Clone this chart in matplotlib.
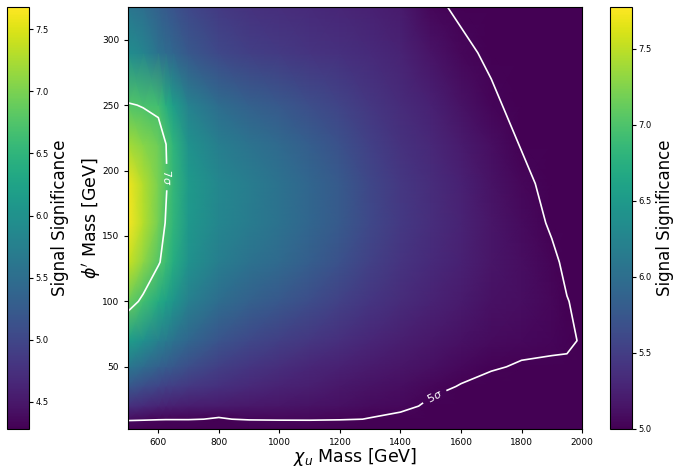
import numpy as np
import matplotlib.pyplot as plt
from matplotlib.colors import Normalize
from matplotlib.cm import ScalarMappable

# grid of the scan (GeV)
chi_mass = [500, 550, 600, 625, 650, 700, 800, 900, 1000, 1100, 1200, 1300, 1400,
            1500, 1600, 1700, 1800, 1900, 1950, 2000]
phi_mass = [2.5, 10, 20, 35, 50, 70, 100, 130, 160, 190, 220, 250, 290, 325]

# signal significance, one list per chi mass (values along phi_mass)
significance_cols = [
    [4.40, 5.10, 5.38, 5.75, 6.10, 6.55, 7.15, 7.55, 7.75, 7.72, 7.40, 7.03, 6.35, 6.10],
    [4.40, 5.07, 5.33, 5.65, 5.97, 6.38, 6.93, 7.30, 7.47, 7.46, 7.27, 6.98, 6.25, 6.00],
    [4.38, 5.04, 5.28, 5.57, 5.85, 6.20, 6.70, 7.03, 7.18, 7.21, 7.15, 6.93, 6.05, 5.85],
    [4.38, 5.03, 5.26, 5.53, 5.80, 6.13, 6.58, 6.90, 6.98, 7.03, 7.005, 6.75, 5.97, 5.78],
    [4.38, 5.03, 5.24, 5.50, 5.75, 6.05, 6.45, 6.72, 6.82, 6.84, 6.80, 6.55, 5.90, 5.72],
    [4.40, 5.03, 5.22, 5.45, 5.66, 5.90, 6.20, 6.40, 6.48, 6.50, 6.42, 6.22, 5.75, 5.60],
    [4.45, 4.97, 5.20, 5.38, 5.52, 5.72, 5.98, 6.18, 6.27, 6.28, 6.18, 5.98, 5.60, 5.47],
    [4.50, 5.04, 5.18, 5.32, 5.43, 5.60, 5.85, 6.05, 6.15, 6.16, 6.06, 5.85, 5.52, 5.40],
    [4.55, 5.05, 5.16, 5.27, 5.36, 5.52, 5.75, 5.95, 6.05, 6.05, 5.95, 5.76, 5.47, 5.36],
    [4.58, 5.05, 5.14, 5.23, 5.30, 5.44, 5.64, 5.82, 5.91, 5.91, 5.82, 5.66, 5.42, 5.33],
    [4.58, 5.03, 5.11, 5.18, 5.25, 5.37, 5.54, 5.69, 5.77, 5.77, 5.69, 5.56, 5.38, 5.30],
    [4.55, 4.99, 5.08, 5.14, 5.20, 5.30, 5.43, 5.54, 5.60, 5.59, 5.53, 5.44, 5.33, 5.26],
    [4.50, 4.93, 5.06, 5.10, 5.16, 5.23, 5.34, 5.42, 5.46, 5.45, 5.40, 5.34, 5.27, 5.20],
    [4.45, 4.85, 4.96, 5.05, 5.11, 5.18, 5.27, 5.33, 5.36, 5.35, 5.31, 5.25, 5.15, 5.05],
    [4.40, 4.78, 4.89, 4.99, 5.06, 5.13, 5.20, 5.25, 5.27, 5.26, 5.20, 5.14, 5.05, 4.96],
    [4.35, 4.70, 4.82, 4.93, 5.02, 5.08, 5.13, 5.16, 5.16, 5.14, 5.10, 5.04, 4.96, 4.88],
    [4.30, 4.60, 4.75, 4.88, 4.98, 5.06, 5.10, 5.10, 5.08, 5.05, 4.99, 4.93, 4.85, 4.78],
    [4.28, 4.55, 4.70, 4.83, 4.97, 5.04, 5.05, 5.03, 4.98, 4.94, 4.89, 4.84, 4.77, 4.70],
    [4.28, 4.52, 4.67, 4.80, 4.98, 5.02, 5.005, 4.97, 4.93, 4.89, 4.84, 4.80, 4.73, 4.67],
    [4.28, 4.50, 4.65, 4.78, 4.92, 4.99, 4.97, 4.93, 4.90, 4.86, 4.81, 4.77, 4.70, 4.64],
]

sigma_levels = [5, 7]
sigma_labels = {5: r'5$\sigma$', 7: r'7$\sigma$'}

X, Y = np.meshgrid(chi_mass, phi_mass)
Z = np.array(significance_cols).T

fig = plt.figure(figsize=(6.74, 4.67), dpi=100)
ax = fig.add_axes([0.19, 0.0814, 0.6736, 0.9036])
cax_left = fig.add_axes([0.0104, 0.0814, 0.0322, 0.9036])
cax_right = fig.add_axes([0.905, 0.0814, 0.0322, 0.9036])

mesh = ax.pcolormesh(X, Y, Z, shading='gouraud', cmap='viridis', vmin=5.0, vmax=7.775)
cs = ax.contour(X, Y, Z, levels=sigma_levels, colors='white', linewidths=1.2)
ax.clabel(cs, fmt=sigma_labels, fontsize=8, inline=True,
          manual=[(625, 195), (1515, 26)])

ax.set_xlim(500, 2000)
ax.set_ylim(2.5, 325)
ax.set_xlabel(r'$\chi_u$ Mass [GeV]', fontsize=12.5)
ax.set_ylabel(r"$\phi'$ Mass [GeV]", fontsize=12.5)
ax.xaxis.set_label_coords(0.5, -0.04)
ax.yaxis.set_label_coords(-0.056, 0.5)
ax.tick_params(labelsize=6.5, length=3)

# colorbar on the right for the map
cb_r = fig.colorbar(mesh, cax=cax_right)
cb_r.set_label('Signal Significance', fontsize=12)
cb_r.ax.yaxis.set_label_coords(2.12, 0.5)
cb_r.ax.tick_params(labelsize=6, length=3, pad=2)

# second colorbar on the left
sm = ScalarMappable(norm=Normalize(4.28, 7.68), cmap='viridis')
cb_l = fig.colorbar(sm, cax=cax_left)
cb_l.set_label('Signal Significance', fontsize=12)
cb_l.ax.yaxis.set_label_coords(2.03, 0.5)
cb_l.ax.tick_params(labelsize=6, length=3, pad=2)

fig.savefig('out.png', dpi=100)
